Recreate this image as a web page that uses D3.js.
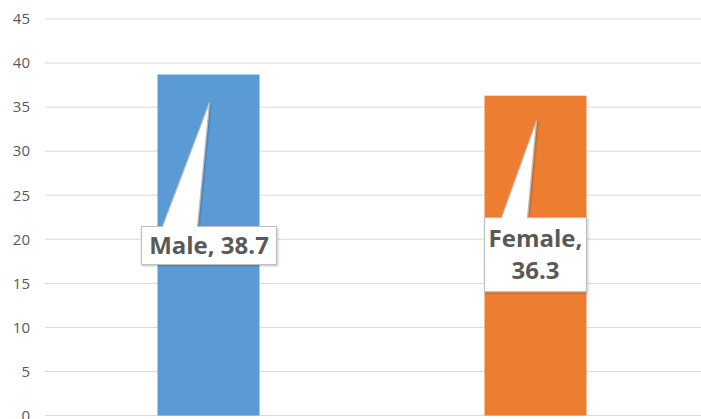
<!DOCTYPE html>
<html><head><meta charset="utf-8">
<script src="https://cdn.jsdelivr.net/npm/d3@7"></script>
<style>body{margin:0;background:#fff}svg{display:block}</style>
</head><body>
<svg id="c" width="701" height="419"></svg>
<script>
const categories = ["Male", "Female"];
const values = [38.7, 36.3];
const colors = ["#5B9BD5", "#ED7D31"];
const yTicks = [0, 5, 10, 15, 20, 25, 30, 35, 40, 45];

(function () {
const svg = d3.select("#c");
const mLeft = 45, mRight = 699, mTop = 19, mBottom = 415.5;

const x = d3.scaleBand().domain(categories).range([mLeft, mRight]).padding(0);
const y = d3.scaleLinear().domain([0, 45]).range([mBottom, mTop]);
const barW = x.bandwidth() * 0.312;

// gridlines
svg.append("g").selectAll("line").data(yTicks).join("line")
  .attr("x1", mLeft).attr("x2", 701)
  .attr("y1", d => y(d)).attr("y2", d => y(d))
  .attr("stroke", "#d9d9d9").attr("stroke-width", 1);

// axis
const ax = svg.append("g").attr("transform", `translate(${mLeft},0)`)
  .call(d3.axisLeft(y).tickValues(yTicks).tickSize(0).tickPadding(15));
ax.select(".domain").remove();
ax.selectAll("text").attr("fill", "#595959").style("font-family", "'Open Sans', sans-serif").style("font-size", "15px");

// bars
svg.append("g").selectAll("rect").data(categories).join("rect")
  .attr("x", d => x(d) + x.bandwidth() / 2 - barW / 2)
  .attr("width", barW)
  .attr("y", (d, i) => y(values[i]))
  .attr("height", (d, i) => y(0) - y(values[i]))
  .attr("fill", (d, i) => colors[i]);

// callouts
const callouts = [
  { lines: [categories[0] + ", " + values[0]], bx: -67, by: 152, bw: 135, bh: 38, tipDy: 28, b1: -46, b2: -11 },
  { lines: [categories[1] + ",", String(values[1])], bx: -51, by: 122, bw: 102, bh: 74, tipDy: 25, b1: -34, b2: -8 }
];
const defs = svg.append("defs");
const f = defs.append("filter").attr("id", "sh").attr("x", "-10%").attr("y", "-10%").attr("width", "130%").attr("height", "130%");
f.append("feDropShadow").attr("dx", 1).attr("dy", 1).attr("stdDeviation", 0.8).attr("flood-color", "#000").attr("flood-opacity", 0.25);

callouts.forEach((c, i) => {
  const cx = x(categories[i]) + x.bandwidth() / 2;
  const vy = y(values[i]);
  const tipX = cx + 1, tipY = vy + c.tipDy;
  const x0 = cx + c.bx, y0 = vy + c.by, x1 = x0 + c.bw, y1 = y0 + c.bh;
  const p = d3.path();
  p.moveTo(x0, y0);
  p.lineTo(cx + c.b1, y0);
  p.lineTo(tipX, tipY);
  p.lineTo(cx + c.b2, y0);
  p.lineTo(x1, y0);
  p.lineTo(x1, y1);
  p.lineTo(x0, y1);
  p.closePath();
  svg.append("path").attr("d", p.toString()).attr("fill", "#fff")
    .attr("stroke", "#bfbfbf").attr("stroke-width", 1.2).attr("filter", "url(#sh)");
  const t = svg.append("text").attr("text-anchor", "middle")
    .attr("fill", "#595959").style("font-family", "'Open Sans', sans-serif")
    .style("font-weight", "bold").style("font-size", "24px");
  const lh = 32;
  const startY = (y0 + y1) / 2 - (c.lines.length - 1) * lh / 2;
  c.lines.forEach((ln, j) => {
    t.append("tspan").attr("x", (x0 + x1) / 2).attr("y", startY + j * lh).attr("dy", "0.36em").text(ln);
  });
});
})();
</script>
</body></html>
